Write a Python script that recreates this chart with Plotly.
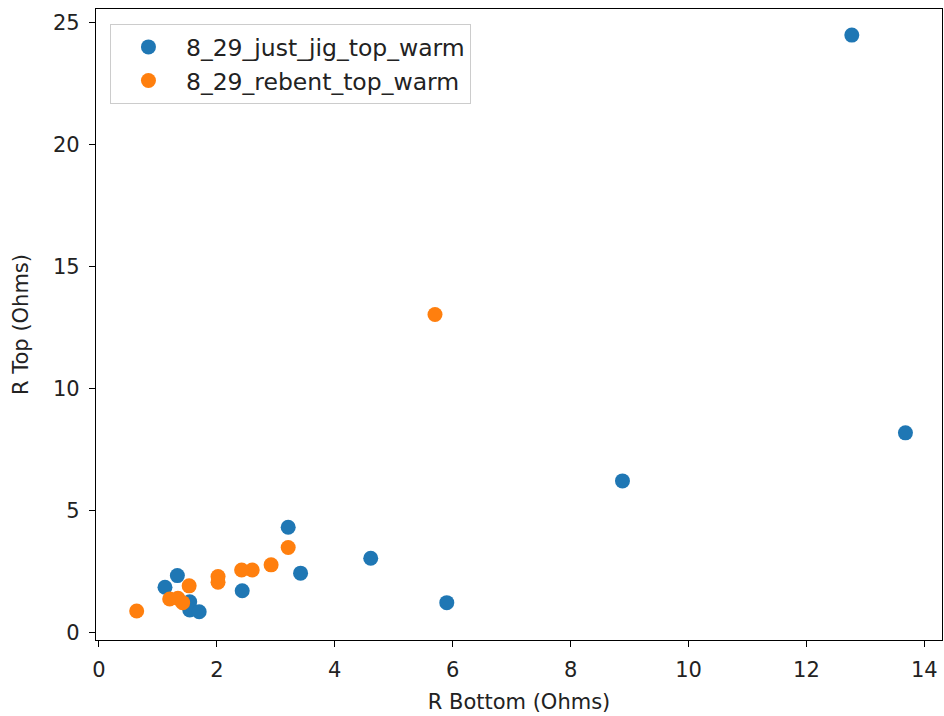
import plotly.graph_objects as go

# Resistance measurements (Ohms)
jig_bottom = [3.21, 4.61, 3.42, 2.43, 1.33, 1.12, 1.54, 1.54, 1.70, 5.90, 8.88, 12.77, 13.68]
jig_top = [4.33, 3.06, 2.45, 1.73, 2.35, 1.87, 1.28, 0.94, 0.87, 1.24, 6.23, 24.50, 8.20]

rebent_bottom = [3.21, 2.92, 2.60, 2.42, 2.02, 2.02, 1.53, 1.20, 1.34, 1.42, 0.64, 5.70]
rebent_top = [3.50, 2.79, 2.58, 2.58, 2.31, 2.08, 1.93, 1.39, 1.42, 1.24, 0.90, 13.05]

x_ticks = [0, 2, 4, 6, 8, 10, 12, 14]
y_ticks = [0, 5, 10, 15, 20, 25]

font = "DejaVu Sans"
fsize = 21

fig = go.Figure()
fig.add_trace(go.Scatter(
    x=jig_bottom, y=jig_top, mode="markers", name="8_29_just_jig_top_warm",
    marker=dict(color="#1f77b4", size=15, line=dict(width=0)),
))
fig.add_trace(go.Scatter(
    x=rebent_bottom, y=rebent_top, mode="markers", name="8_29_rebent_top_warm",
    marker=dict(color="#ff7f0e", size=15, line=dict(width=0)),
))

axis_common = dict(
    showgrid=False, zeroline=False, showline=True, linecolor="black", linewidth=1.3,
    mirror=True, ticks="outside", ticklen=6, tickwidth=1.3, tickcolor="black",
    ticklabelstandoff=5,
    tickfont=dict(family=font, size=fsize, color="#222"),
)

fig.update_layout(
    width=944, height=716,
    margin=dict(l=96, r=2, t=9, b=76),
    paper_bgcolor="white", plot_bgcolor="white",
    font=dict(family=font, size=fsize, color="#222"),
    xaxis=dict(range=[-0.05, 14.3], tickvals=x_ticks,
               title=dict(text="R Bottom (Ohms)", font=dict(family=font, size=fsize), standoff=12),
               **axis_common),
    yaxis=dict(range=[-0.29, 25.57], tickvals=y_ticks,
               title=dict(text="R Top (Ohms)", font=dict(family=font, size=fsize), standoff=18),
               **axis_common),
    legend=dict(x=0.0165, y=0.976, xanchor="left", yanchor="top",
                bgcolor="rgba(255,255,255,0.8)", bordercolor="#cccccc", borderwidth=1,
                font=dict(family=font, size=23.5), itemwidth=65,
                tracegroupgap=0),
    showlegend=True,
)

fig.write_html("out.html")
